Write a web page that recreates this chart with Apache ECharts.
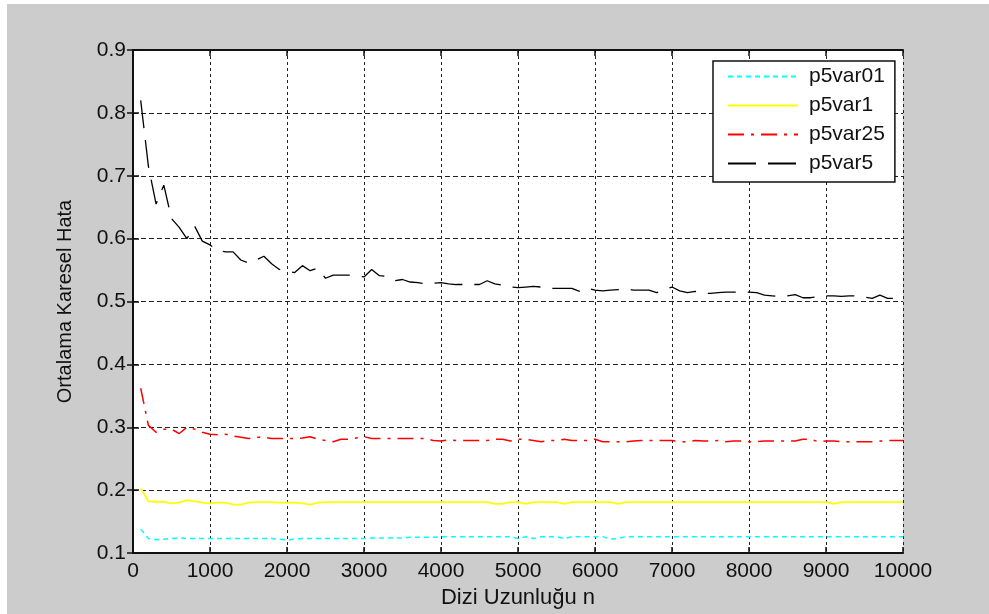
<!DOCTYPE html>
<html>
<head>
<meta charset="utf-8">
<script src="https://cdn.jsdelivr.net/npm/echarts@6/dist/echarts.min.js"></script>
<style>
html,body{margin:0;padding:0;background:#fff;}
#chart{width:989px;height:614px;}
</style>
</head>
<body>
<div id="chart"></div>
<script>
// ---- data ----
const nValues = [100,200,300,400,500,600,700,800,900,1000,
  1100,1200,1300,1400,1500,1600,1700,1800,1900,2000,
  2100,2200,2300,2400,2500,2600,2700,2800,2900,3000,
  3100,3200,3300,3400,3500,3600,3700,3800,3900,4000,
  4100,4200,4300,4400,4500,4600,4700,4800,4900,5000,
  5100,5200,5300,5400,5500,5600,5700,5800,5900,6000,
  6100,6200,6300,6400,6500,6600,6700,6800,6900,7000,
  7100,7200,7300,7400,7500,7600,7700,7800,7900,8000,
  8100,8200,8300,8400,8500,8600,8700,8800,8900,9000,
  9100,9200,9300,9400,9500,9600,9700,9800,9900,10000];

const p5var01 = [0.138,0.123,0.121,0.122,0.123,0.124,0.123,0.123,0.123,0.123,
  0.123,0.123,0.123,0.123,0.123,0.123,0.123,0.123,0.122,0.121,
  0.122,0.123,0.123,0.123,0.123,0.123,0.123,0.123,0.123,0.123,
  0.124,0.124,0.124,0.124,0.124,0.125,0.125,0.125,0.125,0.126,
  0.126,0.126,0.126,0.126,0.126,0.126,0.126,0.126,0.126,0.123,
  0.126,0.123,0.126,0.126,0.126,0.123,0.126,0.126,0.126,0.126,
  0.126,0.122,0.123,0.126,0.126,0.126,0.126,0.126,0.126,0.126,
  0.126,0.126,0.126,0.126,0.126,0.126,0.126,0.126,0.126,0.126,
  0.126,0.126,0.126,0.126,0.126,0.126,0.126,0.126,0.126,0.126,
  0.126,0.126,0.126,0.126,0.126,0.126,0.126,0.126,0.126,0.126];

const p5var1 = [0.203,0.182,0.1815,0.1815,0.179,0.180,0.184,0.182,0.180,0.179,
  0.180,0.180,0.177,0.177,0.180,0.181,0.181,0.181,0.180,0.180,
  0.180,0.179,0.177,0.180,0.181,0.181,0.181,0.181,0.181,0.181,
  0.181,0.181,0.181,0.181,0.181,0.181,0.181,0.181,0.181,0.181,
  0.181,0.181,0.181,0.181,0.181,0.181,0.178,0.178,0.181,0.181,
  0.178,0.181,0.181,0.181,0.181,0.178,0.181,0.181,0.181,0.181,
  0.181,0.181,0.178,0.181,0.181,0.181,0.181,0.181,0.181,0.181,
  0.181,0.181,0.181,0.181,0.181,0.181,0.181,0.181,0.181,0.181,
  0.181,0.181,0.181,0.181,0.181,0.181,0.181,0.181,0.181,0.181,
  0.178,0.181,0.181,0.181,0.181,0.181,0.181,0.181,0.181,0.181];

const p5var25 = [0.362,0.303,0.292,0.297,0.297,0.290,0.300,0.297,0.292,0.289,
  0.288,0.289,0.286,0.284,0.282,0.284,0.284,0.282,0.282,0.282,
  0.282,0.283,0.285,0.281,0.279,0.277,0.281,0.281,0.283,0.285,
  0.282,0.282,0.282,0.282,0.282,0.282,0.282,0.282,0.279,0.278,
  0.280,0.279,0.279,0.279,0.279,0.279,0.281,0.281,0.278,0.281,
  0.281,0.279,0.277,0.279,0.279,0.281,0.279,0.279,0.279,0.281,
  0.277,0.277,0.277,0.277,0.278,0.279,0.279,0.279,0.279,0.279,
  0.277,0.277,0.279,0.278,0.278,0.279,0.277,0.278,0.278,0.277,
  0.277,0.278,0.278,0.278,0.278,0.278,0.281,0.281,0.277,0.278,
  0.278,0.277,0.277,0.277,0.277,0.277,0.278,0.279,0.279,0.279];

const p5var5 = [0.820,0.715,0.655,0.685,0.632,0.618,0.600,0.620,0.596,0.590,
  0.581,0.579,0.579,0.566,0.561,0.566,0.572,0.560,0.551,0.548,
  0.546,0.557,0.549,0.553,0.537,0.542,0.542,0.542,0.541,0.539,
  0.551,0.541,0.540,0.533,0.535,0.531,0.530,0.528,0.529,0.530,
  0.528,0.527,0.527,0.527,0.527,0.533,0.528,0.526,0.523,0.522,
  0.523,0.524,0.523,0.521,0.521,0.521,0.521,0.516,0.521,0.518,
  0.517,0.518,0.519,0.520,0.518,0.518,0.518,0.514,0.519,0.523,
  0.517,0.514,0.516,0.513,0.513,0.514,0.515,0.515,0.515,0.515,
  0.514,0.510,0.509,0.508,0.509,0.511,0.506,0.506,0.508,0.509,
  0.509,0.508,0.509,0.509,0.507,0.505,0.510,0.505,0.505,0.509];

const seriesNames = ['p5var01','p5var1','p5var25','p5var5'];
const xTicks = {min:0, max:10000, interval:1000};
const yTicks = {min:0.1, max:0.9, interval:0.1};
const xTitle = 'Dizi Uzunluğu n';
const yTitle = 'Ortalama Karesel Hata';

// ---- chart ----
const FONT = 'Arial, "Liberation Sans", sans-serif';
const pairs = arr => arr.map((v,i)=>[nValues[i], v]);
const chart = echarts.init(document.getElementById('chart'), null, {renderer:'canvas'});

const gridLineX = {show:true, lineStyle:{color:'#222', width:1, type:[3,3]}};
const gridLineY = {show:true, lineStyle:{color:'#222', width:1, type:[5,3]}};
const axisLineStyle = {show:true, lineStyle:{color:'#111', width:2}};
const tick = {show:true, inside:true, length:6, lineStyle:{color:'#111', width:1.5}};
const labelStyle = {color:'#111', fontFamily:FONT, fontSize:21};

chart.setOption({
  animation:false,
  backgroundColor:'#cccccc',
  graphic:[
    {type:'rect', left:0, top:0, shape:{width:7, height:614}, style:{fill:'#fff'}},
    {type:'rect', left:0, top:0, shape:{width:989, height:4}, style:{fill:'#fff'}}
  ],
  grid:{left:133, top:50, right:86, bottom:61, show:true, backgroundColor:'#fff', borderWidth:0},
  legend:{
    show:true, orient:'vertical', left:713, top:61,
    backgroundColor:'#fff', borderColor:'#111', borderWidth:1.5,
    padding:[5,10,8,14], itemWidth:70, itemHeight:14, itemGap:8,
    itemStyle:{opacity:0},
    textStyle:{fontFamily:FONT, fontSize:21, color:'#111', lineHeight:20, padding:[0,0,0,6]},
    data:seriesNames
  },
  xAxis:[
    {type:'value', position:'bottom', min:xTicks.min, max:xTicks.max, interval:xTicks.interval,
     axisLine:axisLineStyle, axisTick:tick, splitLine:gridLineX,
     axisLabel:Object.assign({margin:8, formatter:v=>String(v)}, labelStyle),
     name:xTitle, nameLocation:'middle', nameGap:29,
     nameTextStyle:{fontFamily:FONT, fontSize:22, color:'#111'}},
    {type:'value', position:'top', min:xTicks.min, max:xTicks.max, interval:xTicks.interval,
     axisLine:axisLineStyle, axisTick:tick, splitLine:{show:false}, axisLabel:{show:false}}
  ],
  yAxis:[
    {type:'value', position:'left', min:yTicks.min, max:yTicks.max, interval:yTicks.interval,
     axisLine:axisLineStyle, axisTick:tick, splitLine:gridLineY,
     axisLabel:Object.assign({margin:7, formatter:v=>v.toFixed(1)}, labelStyle),
     name:yTitle, nameLocation:'middle', nameGap:58,
     nameTextStyle:{fontFamily:FONT, fontSize:20, color:'#111'}},
    {type:'value', position:'right', min:yTicks.min, max:yTicks.max, interval:yTicks.interval,
     axisLine:axisLineStyle, axisTick:tick, splitLine:{show:false}, axisLabel:{show:false}}
  ],
  series:[
    {name:seriesNames[0], type:'line', symbol:'none', data:pairs(p5var01),
     lineStyle:{color:'#00ffff', width:1.5, type:[5,4]}, itemStyle:{color:'#00ffff'}},
    {name:seriesNames[1], type:'line', symbol:'none', data:pairs(p5var1),
     lineStyle:{color:'#ffff00', width:1.8, type:'solid'}, itemStyle:{color:'#ffff00'}},
    {name:seriesNames[2], type:'line', symbol:'none', data:pairs(p5var25),
     lineStyle:{color:'#ff0000', width:1.5, type:[16,7,3,7]}, itemStyle:{color:'#ff0000'}},
    {name:seriesNames[3], type:'line', symbol:'none', data:pairs(p5var5),
     lineStyle:{color:'#000000', width:1.3, type:[28,12]}, itemStyle:{color:'#000000'}}
  ]
});
</script>
</body>
</html>
